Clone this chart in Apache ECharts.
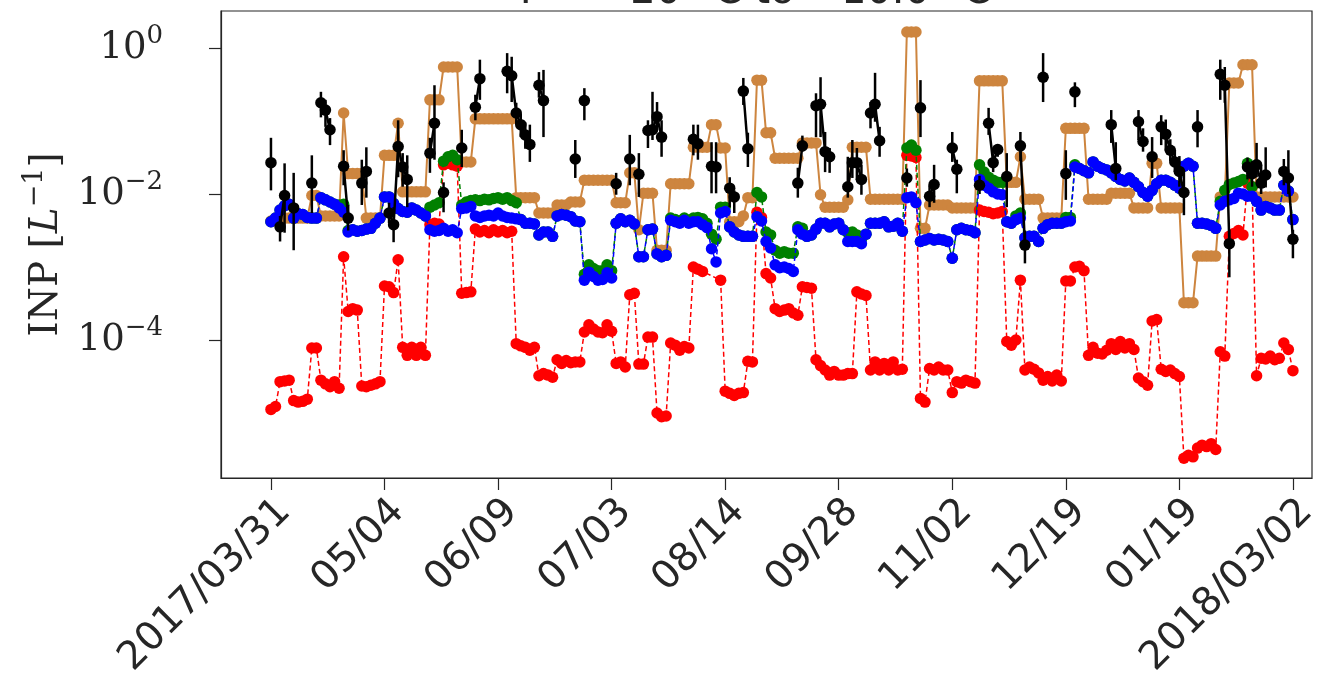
<!DOCTYPE html>
<html>
<head>
<meta charset="utf-8">
<script src="https://cdn.jsdelivr.net/npm/echarts@6/dist/echarts.min.js"></script>
<style>
  html, body { margin: 0; padding: 0; background: #ffffff; }
  #chart { width: 1326px; height: 684px; }
</style>
</head>
<body>
<div id="chart"></div>
<script>
// Sample dates shown every 25th sample along the x axis
const tickDates = ['2017/03/31', '05/04', '06/09', '07/03', '08/14', '09/28', '11/02', '12/19', '01/19', '2018/03/02'];
const tickIndex = [0, 25, 50, 75, 100, 125, 150, 175, 200, 225];
// Decades labelled on the INP axis (log10 of L^-1)
const yTickExp = [-4, -2, 0];

// log10 INP concentration per sample (226 samples, null = no measurement)
const redLog = [
  -4.95,-4.91,-4.57,-4.56,-4.55,-4.83,-4.85,-4.84,-4.81,-4.11,
  -4.11,-4.55,-4.60,-4.64,-4.57,-4.66,-2.86,-3.61,-3.57,-3.59,
  -4.63,-4.64,-4.62,-4.60,-4.57,-3.26,-3.27,-3.35,-2.90,-4.10,
  -4.21,-4.10,-4.21,-4.10,-4.21,-2.42,-2.40,-2.41,-1.60,-1.58,
  -1.60,-1.62,-3.36,-3.35,-3.34,-2.48,-2.52,-2.50,-2.53,-2.49,
  -2.52,-2.50,-2.53,-2.51,-4.05,-4.08,-4.10,-4.14,-4.10,-4.49,
  -4.46,-4.48,-4.51,-4.27,-4.32,-4.28,-4.31,-4.30,-4.30,-3.89,
  -3.79,-3.85,-3.89,-3.90,-3.79,-3.88,-4.32,-4.30,-4.37,-3.38,
  -3.36,-4.33,-4.33,-3.96,-3.96,-5.00,-5.05,-5.04,-4.04,-4.07,
  -4.14,-4.09,-4.11,-3.00,-3.03,-3.06,null,null,null,-3.18,
  -4.70,-4.73,-4.76,-4.73,-4.72,-4.29,-4.30,-2.25,-2.32,-3.09,
  -3.15,-3.57,-3.61,-3.59,-3.57,-3.63,-3.66,-3.27,-3.28,-3.29,
  -4.27,-4.35,-4.41,-4.48,-4.43,-4.48,-4.48,-4.46,-4.46,-3.34,
  -3.37,-3.39,-4.41,-4.30,-4.41,-4.32,-4.41,-4.30,-4.41,-4.40,
  -1.47,-1.48,-1.50,-4.80,-4.85,-4.39,-4.41,-4.37,-4.41,-4.41,
  -4.72,-4.57,-4.59,-4.55,-4.57,-4.59,-2.22,-2.24,-2.25,-2.27,
  -2.26,-2.24,-4.02,-4.07,-4.00,-3.18,-4.41,-4.37,-4.40,-4.45,
  -4.55,-4.50,-4.56,-4.48,-4.56,-3.19,-3.19,-3.00,-2.99,-3.05,
  -4.21,-4.10,-4.18,-4.19,-4.14,-4.05,-4.13,-4.02,-4.11,-4.05,
  -4.13,-4.52,-4.57,-4.62,-3.74,-3.72,-4.40,-4.43,-4.41,-4.46,
  -4.50,-5.62,-5.58,-5.60,-5.48,-5.44,-5.46,-5.42,-5.50,-4.16,
  -4.22,-2.58,-2.54,-2.50,-2.56,-1.85,-1.90,-4.49,-4.25,-4.26,
  -4.22,-4.27,-4.25,-4.04,-4.13,-4.42
];
const greenLog = [
  -2.38,-2.33,-2.22,-2.16,-2.14,-2.33,-2.27,-2.28,-2.32,-2.33,
  -2.33,-2.05,-2.08,-2.11,-2.14,-2.15,-2.14,-2.50,-2.49,-2.51,
  -2.50,-2.48,-2.47,-2.40,-2.33,-2.04,-2.04,-2.13,-2.20,-2.24,
  -2.25,-2.19,-2.22,-2.26,-2.30,-2.18,-2.15,-2.12,-1.55,-1.49,
  -1.47,-1.53,-2.15,-2.11,-2.09,-2.08,-2.09,-2.07,-2.08,-2.06,
  -2.05,-2.07,-2.05,-2.09,-2.12,-2.35,-2.40,-2.40,-2.41,-2.56,
  -2.52,-2.52,-2.58,-2.30,-2.28,-2.29,-2.31,-2.37,-2.38,-3.10,
  -2.97,-3.02,-3.05,-3.05,-2.97,-3.05,-2.40,-2.34,-2.38,-2.36,
  -2.41,-2.86,-2.86,-2.49,-2.48,-2.82,-2.86,-2.84,-2.33,-2.35,
  -2.37,-2.33,-2.36,-2.33,-2.32,-2.34,-2.40,-2.55,-2.62,-2.18,
  -2.18,-2.45,-2.52,-2.56,-2.58,-2.58,-2.58,-1.98,-2.04,-2.52,
  -2.56,-2.77,-2.81,-2.79,-2.81,-2.81,-2.45,-2.47,-2.58,-2.56,
  -2.48,-2.40,-2.40,-2.45,-2.41,-2.40,-2.49,-2.53,-2.52,-2.56,
  -2.62,-2.55,-2.40,-2.40,-2.40,-2.38,-2.45,-2.44,-2.40,-2.51,
  -1.37,-1.33,-1.40,-2.65,-2.63,-2.61,-2.63,-2.62,-2.63,-2.65,
  -2.88,-2.49,-2.47,-2.49,-2.50,-2.53,-1.60,-1.70,-1.77,-1.81,
  -1.84,-1.84,-2.38,-2.40,-2.30,-2.26,-2.60,-2.58,-2.58,-2.65,
  -2.47,-2.42,-2.40,-2.40,-2.40,-2.32,-2.32,-1.60,-1.65,-1.68,
  -1.71,-1.56,-1.62,-1.65,-1.67,-1.71,-1.76,-1.80,-1.82,-1.78,
  -1.84,-1.90,-1.98,-2.03,-1.95,-1.86,-1.81,-1.81,-1.84,-1.88,
  -1.92,-1.62,-1.58,-1.62,-2.40,-2.40,-2.41,-2.43,-2.47,-2.10,
  -1.95,-1.87,-1.85,-1.83,-1.80,-1.58,-1.90,-2.10,-2.22,-2.17,
  -2.19,-2.22,-2.22,-1.88,-1.96,-2.35
];
const blueLog = [
  -2.38,-2.33,-2.22,-2.16,-2.14,-2.33,-2.27,-2.28,-2.32,-2.33,
  -2.33,-2.05,-2.08,-2.11,-2.14,-2.19,-2.25,-2.52,-2.49,-2.51,
  -2.50,-2.48,-2.47,-2.40,-2.33,-2.04,-2.04,-2.13,-2.20,-2.24,
  -2.25,-2.19,-2.22,-2.26,-2.30,-2.49,-2.51,-2.50,-2.47,-2.51,
  -2.49,-2.53,-2.20,-2.19,-2.17,-2.30,-2.32,-2.30,-2.29,-2.30,
  -2.26,-2.30,-2.32,-2.33,-2.34,-2.35,-2.40,-2.40,-2.41,-2.56,
  -2.52,-2.52,-2.58,-2.30,-2.28,-2.29,-2.31,-2.37,-2.38,-3.18,
  -3.07,-3.13,-3.18,-3.17,-3.08,-3.15,-2.40,-2.34,-2.38,-2.36,
  -2.41,-2.86,-2.86,-2.49,-2.48,-2.82,-2.86,-2.84,-2.36,-2.38,
  -2.40,-2.36,-2.40,-2.38,-2.38,-2.42,-2.46,-2.75,-2.93,-2.26,
  -2.24,-2.45,-2.52,-2.56,-2.58,-2.58,-2.58,-2.31,-2.37,-2.65,
  -2.74,-2.97,-3.01,-3.00,-3.02,-3.06,-2.49,-2.55,-2.58,-2.56,
  -2.48,-2.40,-2.40,-2.45,-2.41,-2.40,-2.49,-2.65,-2.65,-2.65,
  -2.68,-2.55,-2.40,-2.40,-2.40,-2.38,-2.45,-2.44,-2.40,-2.51,
  -2.05,-2.04,-2.12,-2.65,-2.63,-2.61,-2.63,-2.62,-2.63,-2.65,
  -2.88,-2.49,-2.47,-2.49,-2.50,-2.53,-1.80,-1.88,-1.92,-1.97,
  -2.00,-2.01,-2.38,-2.40,-2.35,-2.33,-2.60,-2.58,-2.58,-2.65,
  -2.47,-2.42,-2.40,-2.40,-2.40,-2.38,-2.37,-1.63,-1.65,-1.68,
  -1.71,-1.56,-1.62,-1.65,-1.67,-1.71,-1.76,-1.80,-1.82,-1.78,
  -1.84,-1.90,-1.98,-2.03,-1.95,-1.86,-1.81,-1.81,-1.84,-1.88,
  -1.92,-1.62,-1.58,-1.62,-2.40,-2.40,-2.41,-2.43,-2.47,-2.15,
  -2.10,-2.08,-2.06,-1.99,-2.00,-2.03,-2.03,-2.10,-2.22,-2.17,
  -2.19,-2.22,-2.22,-1.88,-1.96,-2.35
];
const peruLog = [
  -2.37,-2.35,-2.33,-2.33,-2.33,-2.33,-2.33,-2.33,-2.33,-2.02,
  -2.02,-2.30,-2.30,-2.30,-2.30,-2.30,-0.89,-1.72,-1.72,-1.72,
  -1.72,-2.33,-2.33,-2.33,-2.33,-1.47,-1.47,-1.47,-1.03,-1.97,
  -1.97,-1.97,-1.97,-1.97,-1.97,-0.71,-0.71,-0.71,-0.26,-0.26,
  -0.26,-0.26,-1.56,-1.56,-1.56,-0.97,-0.97,-0.97,-0.97,-0.97,
  -0.97,-0.97,-0.97,-0.97,-2.05,-2.05,-2.05,-2.05,-2.05,-2.26,
  -2.26,-2.26,-2.26,-2.15,-2.15,-2.15,-2.11,-2.11,-2.11,-1.81,
  -1.81,-1.81,-1.81,-1.81,-1.81,-1.81,-2.12,-2.12,-2.12,-1.71,
  -1.71,-2.49,-1.99,-1.99,-1.99,-2.77,-2.77,-2.77,-1.86,-1.86,
  -1.86,-1.86,-1.86,-1.36,-1.36,-1.36,-1.36,-1.05,-1.05,-1.37,
  -1.37,-2.38,-2.38,-2.38,-2.30,-2.05,-2.05,-0.44,-0.44,-1.16,
  -1.16,-1.51,-1.51,-1.51,-1.51,-1.51,-1.51,-1.30,-1.30,-1.30,
  -1.30,-2.01,-2.18,-2.18,-2.18,-2.18,-2.18,-2.08,-1.36,-1.36,
  -1.36,-1.36,-2.07,-2.07,-2.07,-2.07,-2.07,-2.07,-2.07,-2.07,
  0.22,0.22,0.22,-2.47,-2.47,-2.15,-2.15,-2.15,-2.15,-2.15,
  -2.19,-2.19,-2.19,-2.19,-2.19,-2.19,-0.45,-0.45,-0.45,-0.45,
  -0.45,-0.45,-1.84,-1.84,-1.84,-1.49,-2.07,-2.07,-2.07,-2.07,
  -2.33,-2.33,-2.33,-2.33,-2.33,-1.10,-1.10,-1.10,-1.10,-1.10,
  -2.07,-2.07,-2.07,-2.07,-2.07,-1.99,-1.99,-1.99,-1.99,-1.99,
  -2.19,-2.19,-2.19,-2.19,-1.58,-1.58,-2.19,-2.19,-2.19,-2.19,
  -2.19,-3.49,-3.49,-3.49,-2.85,-2.85,-2.85,-2.85,-2.85,-2.04,
  -2.04,-0.48,-0.48,-0.48,-0.23,-0.23,-0.23,-2.04,-2.04,-2.04,
  -2.04,-2.04,-2.04,-2.04,-2.04,-2.04
];
// Sparse measurements with error bars: sample index, log10 value, lower and upper bound
const blackIdx = [0,2,3,5,9,11,12,13,16,17,20,21,26,27,28,29,30,35,36,38,42,45,46,52,53,54,55,56,57,59,60,67,69,76,79,81,83,84,85,86,93,94,97,98,101,102,104,105,116,117,120,121,122,123,127,128,129,130,132,133,134,140,143,145,146,150,151,156,158,159,160,162,165,166,170,175,177,185,186,191,192,194,196,197,198,199,200,201,204,209,210,211,215,216,217,218,219,223,224,225];
const blackLog = [-1.57,-2.45,-2.02,-2.19,-1.85,-0.75,-0.85,-1.12,-1.62,-2.33,-1.85,-1.69,-2.26,-2.42,-1.35,-1.63,-1.80,-1.44,-1.03,-1.98,-1.37,-0.81,-0.42,-0.32,-0.38,-0.89,-1.05,-1.19,-1.32,-0.51,-0.72,-1.52,-0.72,-1.86,-1.52,-1.73,-1.13,-1.12,-0.94,-1.22,-1.25,-1.31,-1.62,-1.63,-1.92,-2.04,-0.59,-1.38,-1.85,-1.34,-0.79,-0.77,-1.42,-1.49,-1.90,-1.57,-1.57,-1.80,-0.89,-0.77,-1.27,-1.78,-0.82,-2.03,-1.87,-1.37,-1.66,-1.88,-1.03,-1.57,-1.39,-1.76,-1.34,-2.70,-0.40,-1.72,-0.60,-1.05,-1.65,-1.01,-1.28,-1.49,-1.08,-1.18,-1.40,-1.56,-1.69,-1.98,-1.08,-0.36,-0.51,-2.68,-1.63,-1.72,-1.60,-1.85,-1.74,-1.69,-1.78,-2.62];
const blackLo = [-1.95,-2.65,-2.53,-2.77,-2.26,-0.95,-1.08,-1.33,-1.88,-2.50,-2.15,-2.05,-2.40,-2.66,-1.77,-1.90,-2.18,-1.71,-1.53,-2.25,-1.63,-0.99,-0.71,-0.62,-0.74,-1.05,-1.22,-1.38,-1.56,-0.68,-1.22,-1.78,-0.99,-2.01,-1.88,-2.04,-1.37,-1.26,-1.12,-1.49,-1.47,-1.53,-1.99,-1.99,-2.18,-2.26,-0.78,-1.63,-2.05,-1.42,-1.22,-1.22,-1.70,-1.71,-2.05,-1.78,-1.81,-2.01,-1.10,-1.01,-1.49,-1.90,-1.22,-2.18,-2.12,-1.56,-1.99,-2.00,-1.19,-1.70,-1.49,-2.18,-1.55,-2.95,-0.74,-2.08,-0.81,-1.30,-1.81,-1.26,-1.42,-1.78,-1.33,-1.40,-1.55,-1.70,-1.90,-2.29,-1.36,-0.71,-0.75,-3.14,-1.80,-1.90,-1.77,-2.00,-1.91,-1.88,-2.00,-2.88];
const blackHi = [-1.23,-2.30,-1.58,-1.71,-1.47,-0.60,-0.71,-0.96,-1.40,-2.15,-1.53,-1.36,-2.12,-2.18,-0.99,-1.44,-1.47,-1.23,-0.51,-1.84,-1.12,-0.64,-0.16,-0.07,-0.12,-0.75,-0.90,-1.02,-1.05,-0.33,-0.30,-1.26,-0.55,-1.71,-1.19,-1.44,-0.99,-0.60,-0.74,-0.99,-1.05,-1.05,-1.29,-1.29,-1.77,-1.95,-0.41,-1.16,-1.64,-1.20,-0.62,-0.40,-1.15,-1.37,-1.49,-1.26,-1.37,-1.60,-0.74,-0.34,-1.08,-1.65,-0.44,-1.88,-1.60,-1.15,-1.53,-1.75,-0.82,-1.44,-1.33,-1.44,-1.15,-2.50,-0.07,-1.40,-0.47,-0.85,-1.29,-0.85,-1.10,-1.22,-0.92,-0.98,-1.25,-1.40,-1.48,-1.67,-0.85,-0.16,-0.26,-2.49,-1.50,-1.55,-1.30,-1.60,-1.36,-1.52,-1.40,-2.49];

const nSamples = redLog.length;
const toPairs = arr => arr.map((v, i) => [i, v]);

// The black line breaks wherever a sample is missing
const blackFull = new Array(nSamples).fill(null);
blackIdx.forEach((ix, k) => { blackFull[ix] = blackLog[k]; });
const blackLine = blackFull.map((v, i) => [i, v]);
const blackBars = blackIdx.map((ix, k) => [ix, blackLo[k], blackHi[k]]);

const ink = '#262626';
const expText = v => String(v).replace('-', '\u2212');

const chart = echarts.init(document.getElementById('chart'), null, { renderer: 'canvas' });

const markerSeries = (name, data, color, dashed, width, z, size) => ({
  name, type: 'line', data, z,
  symbol: 'circle', symbolSize: size,
  connectNulls: true,
  itemStyle: { color },
  lineStyle: { color, width, type: dashed ? [5, 3] : 'solid' },
  animation: false, silent: true
});

chart.setOption({
  animation: false,
  backgroundColor: '#ffffff',
  // Title sits above the canvas top, so only its lower edge shows
  graphic: [{
    type: 'text', x: 752, y: 13, z: 10,
    style: {
      text: 'T = \u221220 \u00b0C to \u221210.0 \u00b0C',
      font: '40px "DejaVu Sans"', fill: ink,
      align: 'center', verticalAlign: 'bottom'
    }
  }],
  grid: { left: 221, right: 14, top: 11, bottom: 206, show: true, borderColor: ink, borderWidth: 1.2, containLabel: false },
  xAxis: {
    type: 'value', min: -11.0, max: 229.2,
    axisLine: { show: true, onZero: false, lineStyle: { color: ink, width: 1.2 } },
    axisTick: { show: true, customValues: tickIndex, length: 12, lineStyle: { color: ink, width: 1.2 } },
    axisLabel: {
      customValues: tickIndex, rotate: 45, margin: 14,
      align: 'right', verticalAlign: 'top',
      fontFamily: 'DejaVu Sans', fontSize: 39, color: ink,
      formatter: v => tickDates[tickIndex.indexOf(v)]
    },
    splitLine: { show: false }
  },
  yAxis: {
    type: 'value', min: -5.89, max: 0.507,
    axisLine: { show: true, onZero: false, lineStyle: { color: ink, width: 1.2 } },
    axisTick: { show: true, customValues: yTickExp, length: 12, lineStyle: { color: ink, width: 1.2 } },
    axisLabel: {
      customValues: yTickExp, margin: 58,
      formatter: v => '{b|10}{s|' + expText(v) + '}',
      rich: {
        b: { fontFamily: 'DejaVu Serif', fontSize: 37, color: ink, lineHeight: 50 },
        s: { fontFamily: 'DejaVu Serif', fontSize: 26, color: ink, verticalAlign: 'top', lineHeight: 26 }
      }
    },
    splitLine: { show: false },
    name: '{n|INP [}{i|L}{s|\u22121}{n|]}',
    nameLocation: 'middle', nameRotate: 90, nameGap: 147,
    nameTextStyle: {
      rich: {
        n: { fontFamily: 'DejaVu Serif', fontSize: 39, color: ink, lineHeight: 52 },
        i: { fontFamily: 'DejaVu Serif', fontStyle: 'italic', fontSize: 39, color: ink, lineHeight: 52 },
        s: { fontFamily: 'DejaVu Serif', fontSize: 27, color: ink, verticalAlign: 'top', lineHeight: 27 }
      }
    }
  },
  series: [
    markerSeries('peru', toPairs(peruLog), '#cd853f', false, 2, 2, 11.5),
    markerSeries('red', toPairs(redLog), '#ff0000', true, 1.5, 3, 11.5),
    markerSeries('green', toPairs(greenLog), '#008000', true, 1.5, 4, 11.5),
    markerSeries('blue', toPairs(blueLog), '#0000ff', true, 1.5, 5, 11.5),
    Object.assign(markerSeries('black', blackLine, '#000000', false, 2.5, 6, 11.5), { connectNulls: false }),
    {
      name: 'black error', type: 'custom', z: 6, silent: true,
      data: blackBars,
      renderItem: (params, api) => {
        const p1 = api.coord([api.value(0), api.value(1)]);
        const p2 = api.coord([api.value(0), api.value(2)]);
        return { type: 'line', shape: { x1: p1[0], y1: p1[1], x2: p2[0], y2: p2[1] }, style: { stroke: '#000000', lineWidth: 2.5 } };
      }
    }
  ]
});
</script>
</body>
</html>
